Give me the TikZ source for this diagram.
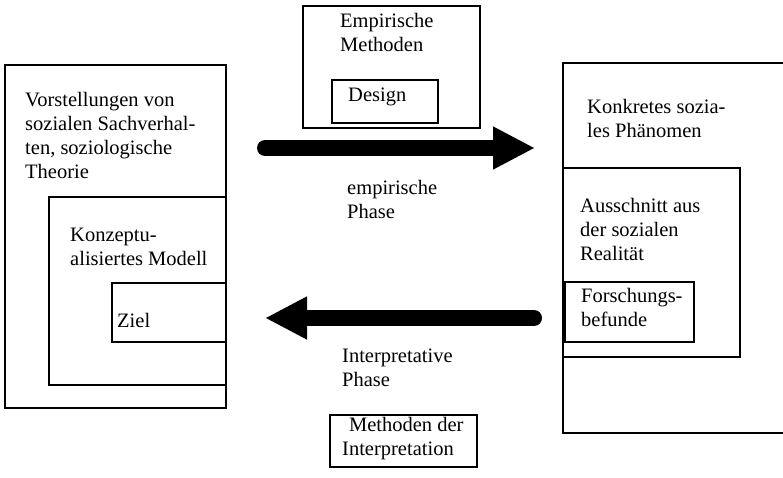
\documentclass[tikz,border=0pt]{standalone}
\usepackage{fontspec}
\setmainfont{Liberation Serif}
\usetikzlibrary{arrows.meta}
\begin{document}
\begin{tikzpicture}[x=1pt,y=-1pt,
  box/.style={draw=black, line width=1.3pt, anchor=north west, inner sep=0pt, outer sep=0pt},
  lbl/.style={anchor=base west, inner sep=0pt, align=left, font=\fontsize{20.5}{24}\selectfont},
  bigarrow/.style={line width=16pt, line cap=round, -{Triangle[length=42pt,width=40pt]}}]
\useasboundingbox (0,0) rectangle (783,477);
% left column
\node[box, minimum width=221pt, minimum height=343pt] (outerL) at (5,65) {};
\node[box, minimum width=177pt, minimum height=188pt] (midL) at (49,197) {};
\node[box, minimum width=114pt, minimum height=59pt] (ziel) at (112,283) {};
\node[lbl] (tVor) at (25,178) {Vorstellungen von\\sozialen Sachverhal-\\ten, soziologische\\Theorie};
\node[lbl] (tKon) at (70,265) {Konzeptu-\\alisiertes Modell};
\node[lbl] (tZiel) at (117,327) {Ziel};
% right column (open to the right)
\coordinate (rTR) at (786,63);
\coordinate (rTL) at (563,63);
\coordinate (rBL) at (563,433);
\coordinate (rBR) at (786,433);
\draw[line width=1.3pt] (rTR) -- (rTL) -- (rBL) -- (rBR);
\node[box, minimum width=177pt, minimum height=189pt] (midR) at (563,168) {};
\node[box, minimum width=129pt, minimum height=60pt] (forsch) at (565,282) {};
\node[lbl] (tKonk) at (587,137) {Konkretes sozia-\\les Phänomen};
\node[lbl] (tAus) at (580,260) {Ausschnitt aus\\der sozialen\\Realität};
\node[lbl] (tFor) at (581,326) {Forschungs-\\befunde};
% top methods box
\node[box, minimum width=177pt, minimum height=122pt] (emp) at (303,6) {};
\node[box, minimum width=106pt, minimum height=43pt] (design) at (332,80) {};
\node[lbl] (tEmp) at (340,51) {Empirische\\Methoden};
\node[lbl] (tDes) at (348,101) {Design};
% bottom methods box
\node[box, minimum width=147pt, minimum height=52pt] (interp) at (330,415) {};
\node[lbl] (tInt) at (342,455) {\,\,Methoden der\\Interpretation};
% arrows
\coordinate (a1s) at (265,148);
\coordinate (a1e) at (535,148);
\coordinate (a2s) at (534,318);
\coordinate (a2e) at (265,318);
\draw[bigarrow] (a1s) -- (a1e);
\draw[bigarrow] (a2s) -- (a2e);
\node[lbl] (tEmpPh) at (347,218) {empirische\\Phase};
\node[lbl] (tIntPh) at (342,386) {Interpretative\\Phase};
\end{tikzpicture}
\end{document}
